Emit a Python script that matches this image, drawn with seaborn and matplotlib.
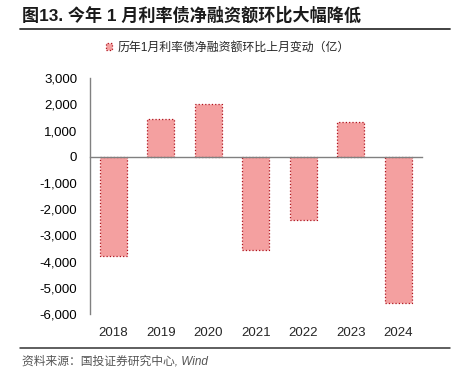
import matplotlib
matplotlib.use('Agg')
import matplotlib.pyplot as plt
import seaborn as sns
import numpy as np
import pandas as pd
from matplotlib.lines import Line2D
from matplotlib.ticker import FuncFormatter, FixedLocator

# data (亿)
years = ['2018', '2019', '2020', '2021', '2022', '2023', '2024']
changes = [-3800, 1430, 2030, -3570, -2400, 1330, -5580]
series_name = '历年1月利率债净融资额环比上月变动（亿）'
title = '图13. 今年 1 月利率债净融资额环比大幅降低'
source = '资料来源：国投证券研究中心, Wind'
yticks = [-6000, -5000, -4000, -3000, -2000, -1000, 0, 1000, 2000, 3000]

sns.set_style('white')
plt.rcParams['font.family'] = ['Liberation Sans', 'Noto Sans CJK SC']

df = pd.DataFrame({'year': years, 'change': changes})

fig = plt.figure(figsize=(4.56, 3.74), dpi=100)
ax = fig.add_axes([0.197, 0.160, 0.728, 0.631])

sns.barplot(data=df, x='year', y='change', ax=ax, color='#F4A0A0',
            width=0.57, edgecolor='#B0141E', linewidth=0.9, linestyle=':',
            label=series_name, saturation=1)

ax.set_ylim(yticks[0], yticks[-1])
ax.set_xlim(-0.5, len(years) - 0.5)
ax.set_yticks(yticks)
ax.yaxis.set_major_formatter(FuncFormatter(lambda v, p: f'{int(v):,}'))
ax.set_xlabel('')
ax.set_ylabel('')

grey = '#808080'
for s in ['top', 'right']:
    ax.spines[s].set_visible(False)
ax.spines['left'].set_color(grey)
ax.spines['left'].set_linewidth(1.0)
ax.spines['bottom'].set_position(('data', 0))
ax.spines['bottom'].set_color(grey)
ax.spines['bottom'].set_linewidth(1.0)

# category boundary ticks on the zero line
ax.xaxis.set_major_locator(FixedLocator(np.arange(len(years) + 1) - 0.5))
ax.tick_params(axis='x', direction='in', length=3, color=grey, labelbottom=False)
ax.tick_params(axis='y', direction='in', length=3, color=grey, labelsize=9.5,
               pad=9, labelcolor='black')

# year labels along the bottom edge
sec = ax.secondary_xaxis('bottom')
sec.set_xticks(range(len(years)))
sec.set_xticklabels(years)
sec.tick_params(length=0, labelsize=9.5, pad=9)
sec.spines['bottom'].set_visible(False)

ax.legend(loc='center', bbox_to_anchor=(0.5, 0.872), bbox_transform=fig.transFigure,
          frameon=False, fontsize=8.6, handlelength=0.5, handleheight=0.5,
          handletextpad=0.4)

fig.text(0.048, 1 - 15 / 374, title, fontsize=12.3, fontweight='bold', va='center',
         color='#1a1a1a')
fig.add_artist(Line2D([0.044, 0.987], [1 - 29 / 374] * 2, color='#333333', lw=1.3))
fig.add_artist(Line2D([0.044, 0.987], [1 - 348 / 374] * 2, color='#333333', lw=1.1))
fig.text(0.048, 1 - 362 / 374, source, fontsize=8.5, style='italic', va='center',
         color='#555555')

fig.savefig('out.png', dpi=100)
